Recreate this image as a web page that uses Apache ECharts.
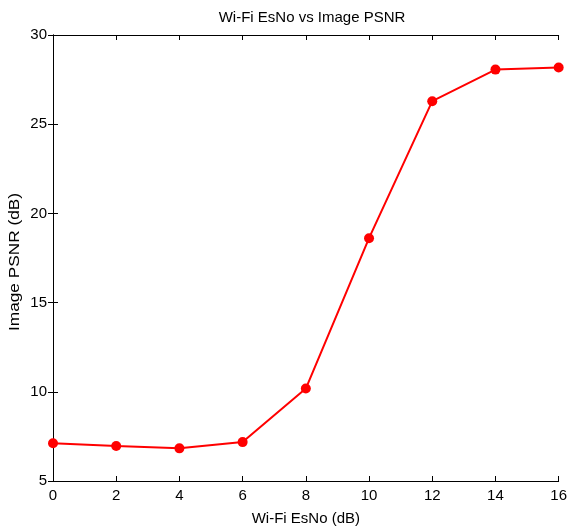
<!DOCTYPE html>
<html>
<head>
<meta charset="utf-8">
<script src="https://cdn.jsdelivr.net/npm/echarts@6/dist/echarts.min.js"></script>
<style>html,body{margin:0;padding:0;background:#fff}#c{width:570px;height:531px}</style>
</head>
<body>
<div id="c"></div>
<script>
const esno = [0, 2, 4, 6, 8, 10, 12, 14, 16];
const psnr = [7.12, 6.96, 6.83, 7.18, 10.18, 18.61, 26.29, 28.06, 28.18];
const titleText = 'Wi-Fi EsNo vs Image PSNR';
const xName = 'Wi-Fi EsNo (dB)';
const yName = 'Image PSNR (dB)';

const font = 'Liberation Sans, Arial, sans-serif';
const chart = echarts.init(document.getElementById('c'), null, {renderer: 'canvas'});
const axisCommon = {
  axisLine: {show: true, lineStyle: {color: '#000', width: 1}},
  axisTick: {show: true, inside: true, length: 5, lineStyle: {color: '#000'}},
  splitLine: {show: false}
};
chart.setOption({
  animation: false,
  backgroundColor: '#fff',
  title: {text: titleText, left: 307, top: 5, textAlign: 'center',
    textStyle: {fontFamily: font, fontSize: 15, fontWeight: 'normal', color: '#000'}},
  grid: {left: 53, right: 7, top: 35, bottom: 46},
  xAxis: [
    Object.assign({type: 'value', min: 0, max: 16, interval: 2, position: 'bottom',
      name: xName, nameLocation: 'middle', nameGap: 30,
      nameTextStyle: {fontFamily: font, fontSize: 15, color: '#000'},
      axisLabel: {fontFamily: font, fontSize: 15, color: '#000', margin: 7}}, axisCommon),
    Object.assign({type: 'value', min: 0, max: 16, interval: 2, position: 'top',
      axisLabel: {show: false}}, axisCommon)
  ],
  yAxis: [
    Object.assign({type: 'value', min: 5, max: 30, interval: 5, position: 'left',
      axisLabel: {fontFamily: font, fontSize: 15, color: '#000', margin: 6}}, axisCommon),
    Object.assign({type: 'value', min: 5, max: 30, interval: 5, position: 'right',
      axisLabel: {show: false}}, axisCommon)
  ],
  graphic: [{
    type: 'text',
    x: 15, y: 262,
    rotation: Math.PI / 2,
    scaleX: 1.15,
    style: {text: yName, fontFamily: font, fontSize: 15, fill: '#000',
      align: 'center', verticalAlign: 'middle'}
  }],
  series: [{
    type: 'line',
    data: esno.map((x, i) => [x, psnr[i]]),
    symbol: 'circle', symbolSize: 10,
    lineStyle: {color: '#ff0000', width: 2},
    itemStyle: {color: '#ff0000'},
    clip: false
  }]
});
</script>
</body>
</html>
